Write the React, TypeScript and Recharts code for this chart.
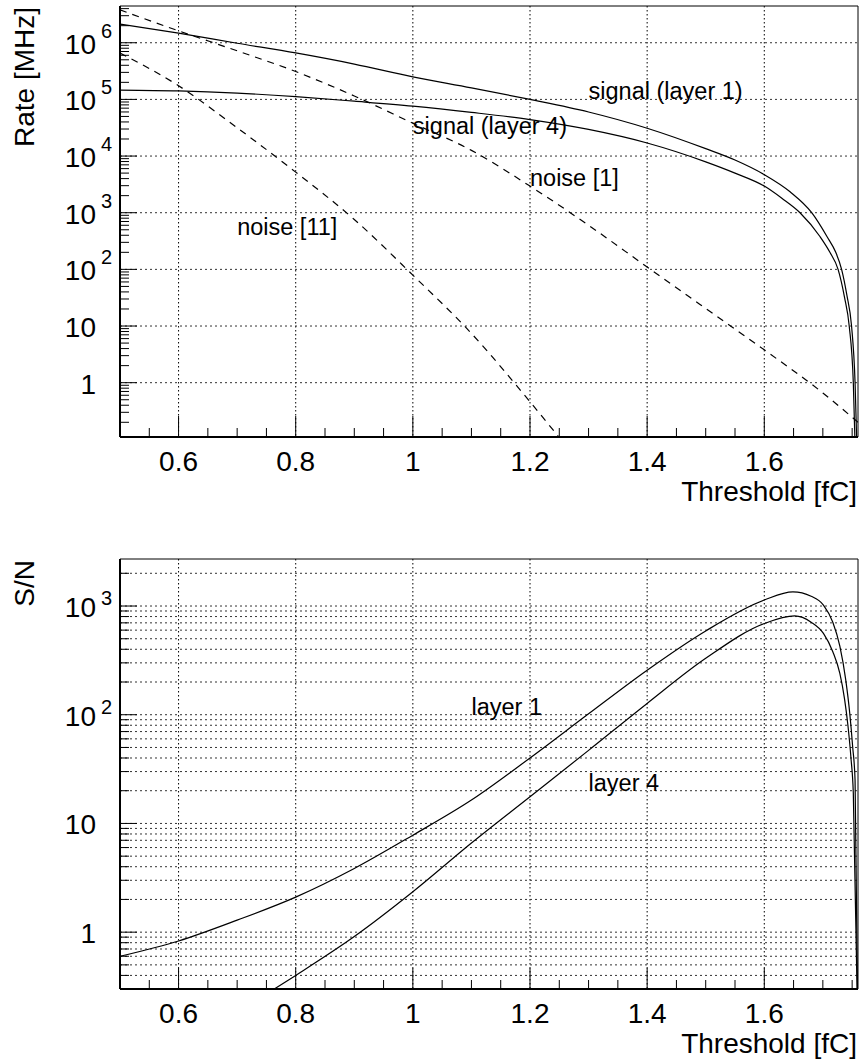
import React from 'react';
import { LineChart, Line, XAxis, YAxis, CartesianGrid, ReferenceArea, ReferenceDot } from 'recharts';

const FONT = '"Liberation Sans", Arial, Helvetica, sans-serif';

// threshold axis, shared by both pads
const xDomain: [number, number] = [0.5, 1.76];
const xTicks = [0.55, 0.6, 0.65, 0.7, 0.75, 0.8, 0.85, 0.9, 0.95, 1, 1.05, 1.1, 1.15, 1.2, 1.25, 1.3, 1.35, 1.4, 1.45, 1.5, 1.55, 1.6, 1.65, 1.7, 1.75];
const xLabelTicks = [0.6, 0.8, 1, 1.2, 1.4, 1.6];

// log axis helpers (ticks at 1..9 x decade)
const mantissas = [1, 2, 3, 4, 5, 6, 7, 8, 9];
const rateDecades = [0.1, 1, 10, 100, 1e3, 1e4, 1e5, 1e6];
const snDecades = [0.1, 1, 10, 100, 1e3];

// upper pad: rate [MHz]
const rateDomain: [number, number] = [0.11, 4.45e6];

const sigL1X = [0.5, 0.6, 0.7, 0.8, 0.9, 1.0, 1.1, 1.2, 1.3, 1.4, 1.5, 1.55, 1.6, 1.644, 1.681, 1.707, 1.722, 1.732, 1.741, 1.749, 1.755, 1.758];
const sigL1Y = [2.14e6, 1.48e6, 9.8e5, 6.6e5, 4.2e5, 2.5e5, 1.6e5, 1.0e5, 6.0e4, 3.1e4, 1.35e4, 8.5e3, 4.7e3, 2.34e3, 1.0e3, 380, 200, 100, 35, 10, 1, 0.08];

const sigL4X = [0.5, 0.6, 0.7, 0.8, 0.9, 1.0, 1.1, 1.2, 1.3, 1.4, 1.5, 1.55, 1.6, 1.63, 1.661, 1.695, 1.712, 1.726, 1.737, 1.745, 1.752, 1.755];
const sigL4Y = [1.46e5, 1.41e5, 1.29e5, 1.12e5, 9.3e4, 7.6e4, 5.9e4, 4.4e4, 2.95e4, 1.7e4, 7.9e3, 5.0e3, 2.95e3, 1.8e3, 1.0e3, 380, 200, 100, 32, 10, 1, 0.08];

const noise1X = [0.5, 0.6, 0.7, 0.8, 0.9, 1.0, 1.1, 1.2, 1.3, 1.4, 1.5, 1.6, 1.7, 1.76];
const noise1Y = [3.8e6, 1.62e6, 7.2e5, 3.1e5, 1.15e5, 3.8e4, 1.26e4, 2.95e3, 600, 110, 20.4, 3.8, 0.66, 0.2];

const noise11X = [0.5, 0.6, 0.7, 0.8, 0.9, 1.0, 1.1, 1.2, 1.26];
const noise11Y = [6.6e5, 1.74e5, 3.16e4, 5.2e3, 760, 79, 7.4, 0.46, 0.08];

// lower pad: S/N
const snDomain: [number, number] = [0.3, 2707];

const snL1X = [0.5, 0.6, 0.7, 0.8, 0.9, 1.0, 1.1, 1.2, 1.3, 1.4, 1.5, 1.6, 1.649, 1.68, 1.701, 1.717, 1.729, 1.739, 1.746, 1.751, 1.755, 1.7595];
const snL1Y = [0.6, 0.83, 1.29, 2.1, 3.85, 7.8, 16.4, 40, 102, 257, 590, 1135, 1350, 1230, 1020, 710, 427, 210, 102, 50, 25, 0.2];

const snL4X = [0.75, 0.8, 0.9, 1.0, 1.1, 1.2, 1.3, 1.4, 1.5, 1.6, 1.652, 1.68, 1.701, 1.717, 1.729, 1.737, 1.743, 1.748, 1.752, 1.759];
const snL4Y = [0.27, 0.4, 0.91, 2.35, 6.6, 17.6, 47, 127, 330, 690, 810, 710, 560, 380, 240, 140, 78, 40, 19, 0.2];

// text annotations (data coordinates of the text start / baseline)
const rateNoteText = ['signal (layer 1)', 'signal (layer 4)', 'noise [1]', 'noise [11]'];
const rateNoteX = [1.3, 1.0, 1.2, 0.7];
const rateNoteY = [1e5, 2.5e4, 3e3, 400];

const snNoteText = ['layer 1', 'layer 4'];
const snNoteX = [1.1, 1.3];
const snNoteY = [100, 20];

type Pt = { x: number; y: number };
const zip = (xs: number[], ys: number[]): Pt[] => xs.map((x, i) => ({ x, y: ys[i] }));
const logTicks = (decades: number[], dom: [number, number]) =>
  decades.flatMap((d) => mantissas.map((m) => +(m * d).toPrecision(6))).filter((v) => v >= dom[0] && v <= dom[1]);

const LogTick = (props: any) => {
  const { x = 0, y = 0, payload, raise } = props;
  const v = payload.value as number;
  const e = Math.round(Math.log10(v));
  const major = Math.abs(Math.log10(v) - e) < 1e-6;
  return (
    <g>
      <line x1={x} x2={x + (major ? 17 : 9)} y1={y} y2={y} stroke="#000" strokeWidth={1} />
      {major && (
        <text x={x - 24} y={y + 11} textAnchor="end" fontSize={28} fontFamily={FONT} fill="#000">
          {e === 0 ? '1' : '10'}
        </text>
      )}
      {major && e > 1 && (
        <text x={x - 19} y={y + 11 - raise} textAnchor="start" fontSize={20} fontFamily={FONT} fill="#000">
          {e}
        </text>
      )}
    </g>
  );
};

const ThrTick = (props: any) => {
  const { x = 0, y = 0, payload } = props;
  const v = payload.value as number;
  const major = xLabelTicks.some((t) => Math.abs(t - v) < 1e-9);
  return (
    <g>
      <line x1={x} x2={x} y1={y} y2={y - (major ? 21 : 9)} stroke="#000" strokeWidth={1} />
      {major && (
        <text x={x} y={y + 34} textAnchor="middle" fontSize={28} fontFamily={FONT} fill="#000">
          {String(v)}
        </text>
      )}
    </g>
  );
};

const yTitle = (text: string) => (props: any) => {
  const top = (props.viewBox?.y ?? 0) + 1;
  return (
    <text x={34} y={top} transform={`rotate(-90 34 ${top})`} textAnchor="end" fontSize={28} fontFamily={FONT} fill="#000">
      {text}
    </text>
  );
};

const xTitle = (props: any) => {
  const vb = props.viewBox || { x: 0, y: 0, width: 0 };
  return (
    <text x={vb.x + vb.width - 1} y={vb.y + 64} textAnchor="end" fontSize={28} fontFamily={FONT} fill="#000">
      Threshold [fC]
    </text>
  );
};

const note = (text: string) => (props: any) => {
  const vb = props.viewBox || { x: 0, y: 0 };
  return (
    <text x={vb.x} y={vb.y} fontSize={23.5} fontFamily={FONT} fill="#000">
      {text}
    </text>
  );
};

interface Curve { data: Pt[]; dashed?: boolean }
interface PadProps {
  height: number;
  top: number;
  axisHeight: number;
  yDomain: [number, number];
  yTicks: number[];
  gridY: number[];
  raise: number;
  title: string;
  curves: Curve[];
  notes: { text: string; x: number; y: number }[];
}

const Pad = ({ height, top, axisHeight, yDomain, yTicks, gridY, raise, title, curves, notes }: PadProps) => (
  <LineChart width={859} height={height} margin={{ top, right: 1, bottom: 0, left: 0 }}>
    <CartesianGrid horizontal={false} verticalValues={xLabelTicks} stroke="#000" strokeDasharray="1.5 2.5" />
    <CartesianGrid vertical={false} horizontalValues={gridY} stroke="#333" strokeDasharray="2 3" />
    <XAxis
      type="number"
      dataKey="x"
      domain={xDomain}
      allowDataOverflow
      ticks={xTicks}
      interval={0}
      height={axisHeight}
      tickSize={0}
      tickMargin={0}
      tickLine={false}
      axisLine={{ stroke: '#000', strokeWidth: 2 }}
      tick={(p: any) => <ThrTick {...p} />}
      label={xTitle}
    />
    <YAxis
      type="number"
      scale="log"
      domain={yDomain}
      allowDataOverflow
      ticks={yTicks}
      interval={0}
      width={120}
      tickSize={0}
      tickMargin={0}
      tickLine={false}
      axisLine={{ stroke: '#000', strokeWidth: 2 }}
      tick={(p: any) => <LogTick {...p} raise={raise} />}
      label={yTitle(title)}
    />
    <ReferenceArea x1={xDomain[0]} x2={xDomain[1]} y1={yDomain[0]} y2={yDomain[1]} fill="none" stroke="#000" strokeWidth={1} />
    {curves.map((c, i) => (
      <Line
        key={i}
        data={c.data}
        dataKey="y"
        type="monotone"
        stroke="#000"
        strokeWidth={1.2}
        strokeDasharray={c.dashed ? '7 6' : undefined}
        dot={false}
        activeDot={false}
        isAnimationActive={false}
      />
    ))}
    {notes.map((n) => (
      <ReferenceDot key={n.text} x={n.x} y={n.y} r={0} fill="none" stroke="none" label={note(n.text)} />
    ))}
  </LineChart>
);

export default function App() {
  const rateTicks = logTicks(rateDecades, rateDomain);
  const snTicks = logTicks(snDecades, snDomain);
  const rateGrid = rateDecades.filter((d) => d >= rateDomain[0] && d <= rateDomain[1]);

  return (
    <div style={{ position: 'absolute', left: 0, top: 0, width: 859, height: 1064, background: '#fff', fontFamily: FONT }}>
      <Pad
        height={530}
        top={6}
        axisHeight={93}
        yDomain={rateDomain}
        yTicks={rateTicks}
        gridY={rateGrid}
        raise={16}
        title="Rate [MHz]"
        curves={[
          { data: zip(sigL1X, sigL1Y) },
          { data: zip(sigL4X, sigL4Y) },
          { data: zip(noise1X, noise1Y), dashed: true },
          { data: zip(noise11X, noise11Y), dashed: true },
        ]}
        notes={rateNoteText.map((text, i) => ({ text, x: rateNoteX[i], y: rateNoteY[i] }))}
      />
      <Pad
        height={534}
        top={29}
        axisHeight={75}
        yDomain={snDomain}
        yTicks={snTicks}
        gridY={snTicks}
        raise={12}
        title="S/N"
        curves={[{ data: zip(snL1X, snL1Y) }, { data: zip(snL4X, snL4Y) }]}
        notes={snNoteText.map((text, i) => ({ text, x: snNoteX[i], y: snNoteY[i] }))}
      />
    </div>
  );
}
